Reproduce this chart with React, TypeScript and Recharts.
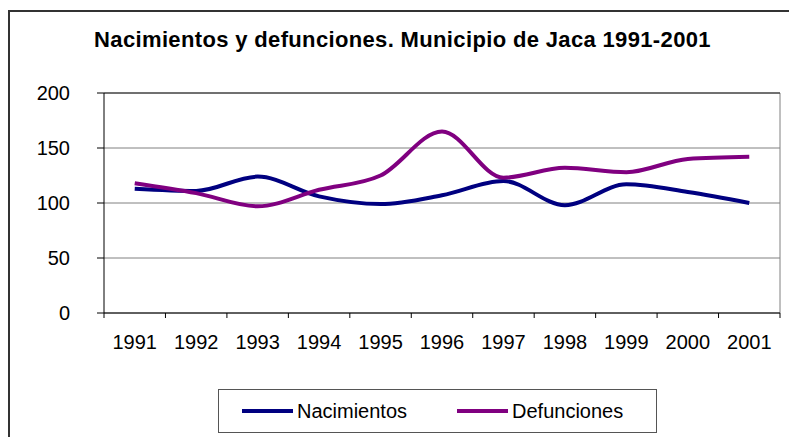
import { LineChart, Line, XAxis, YAxis, CartesianGrid, ReferenceLine, Legend } from 'recharts';

const YEARS = ['1991', '1992', '1993', '1994', '1995', '1996', '1997', '1998', '1999', '2000', '2001'];
const NACIMIENTOS = [113, 111, 124, 106, 99, 107, 120, 98, 117, 110, 100];
const DEFUNCIONES = [118, 109, 97, 112, 125, 165, 123, 132, 128, 140, 142];
const Y_TICKS = [0, 50, 100, 150, 200];

const SERIES = [
  { key: 'nacimientos', name: 'Nacimientos', color: '#000080' },
  { key: 'defunciones', name: 'Defunciones', color: '#800080' },
];

const data = YEARS.map((year, i) => ({
  x: i + 0.5,
  year,
  nacimientos: NACIMIENTOS[i],
  defunciones: DEFUNCIONES[i],
}));

const W = 789;
const H = 437;
const PLOT_LEFT = 104;
const PLOT_RIGHT = 780;
const HALF_STEP = (PLOT_RIGHT - PLOT_LEFT) / YEARS.length / 2;
const FONT = '"Liberation Sans", Arial, sans-serif';

// tick marks sit between years, labels centred in each slot
function YearTick({ x, y, payload }: any) {
  const i = payload.value;
  return (
    <g>
      <line x1={x} y1={y} x2={x} y2={y + 5} stroke="#000" strokeWidth={1} />
      {i < YEARS.length && (
        <text x={x + HALF_STEP} y={y + 36} textAnchor="middle" fontSize={20} fill="#000" fontFamily={FONT}>
          {YEARS[i]}
        </text>
      )}
    </g>
  );
}

function LegendBox() {
  return (
    <div
      style={{
        width: 439,
        height: 44,
        border: '1px solid #555',
        display: 'flex',
        alignItems: 'center',
        fontFamily: FONT,
        fontSize: 20,
        boxSizing: 'border-box',
        paddingLeft: 23,
      }}
    >
      {SERIES.map((s, i) => (
        <div key={s.key} style={{ display: 'flex', alignItems: 'center', marginRight: i === 0 ? 50 : 0 }}>
          <span style={{ display: 'inline-block', width: 51, height: 4, background: s.color, marginRight: 4 }} />
          <span>{s.name}</span>
        </div>
      ))}
    </div>
  );
}

export default function App() {
  return (
    <div style={{ position: 'absolute', left: 0, top: 0, width: W, height: H, overflow: 'hidden', background: '#fff' }}>
      <div
        style={{
          position: 'absolute',
          left: 8,
          top: 10,
          width: W + 20,
          height: H + 20,
          border: '2px solid #333',
        }}
      />
      <div
        style={{
          position: 'absolute',
          left: 0,
          top: 27,
          width: 805,
          textAlign: 'center',
          fontFamily: FONT,
          fontWeight: 'bold',
          fontSize: 22,
          letterSpacing: 0.35,
          color: '#000',
        }}
      >
        Nacimientos y defunciones. Municipio de Jaca 1991-2001
      </div>
      <div style={{ position: 'absolute', left: 0, top: 0 }}>
        <LineChart width={W} height={H} data={data} margin={{ top: 93, right: W - PLOT_RIGHT, left: 0, bottom: 84 }}>
          <CartesianGrid vertical={false} stroke="#808080" strokeWidth={1} />
          <ReferenceLine x={11} stroke="#808080" />
          <ReferenceLine y={200} stroke="#222" />
          <XAxis
            dataKey="x"
            type="number"
            domain={[0, 11]}
            ticks={[0, 1, 2, 3, 4, 5, 6, 7, 8, 9, 10, 11]}
            tick={<YearTick />}
            tickLine={false}
            tickSize={0}
            tickMargin={0}
            axisLine={{ stroke: '#000' }}
            height={40}
            interval={0}
          />
          <YAxis
            domain={[0, 200]}
            ticks={Y_TICKS}
            width={PLOT_LEFT}
            tickSize={7}
            tickMargin={27}
            tickLine={{ stroke: '#000' }}
            axisLine={{ stroke: '#000' }}
            tick={{ fill: '#000', fontSize: 20, fontFamily: FONT }}
          />
          {SERIES.map((s) => (
            <Line
              key={s.key}
              dataKey={s.key}
              name={s.name}
              type="monotone"
              stroke={s.color}
              strokeWidth={4}
              dot={false}
              isAnimationActive={false}
            />
          ))}
          <Legend
            layout="horizontal"
            verticalAlign="middle"
            align="center"
            content={<LegendBox />}
            wrapperStyle={{ left: 218, top: 389, width: 440, height: 44 }}
          />
        </LineChart>
      </div>
    </div>
  );
}
